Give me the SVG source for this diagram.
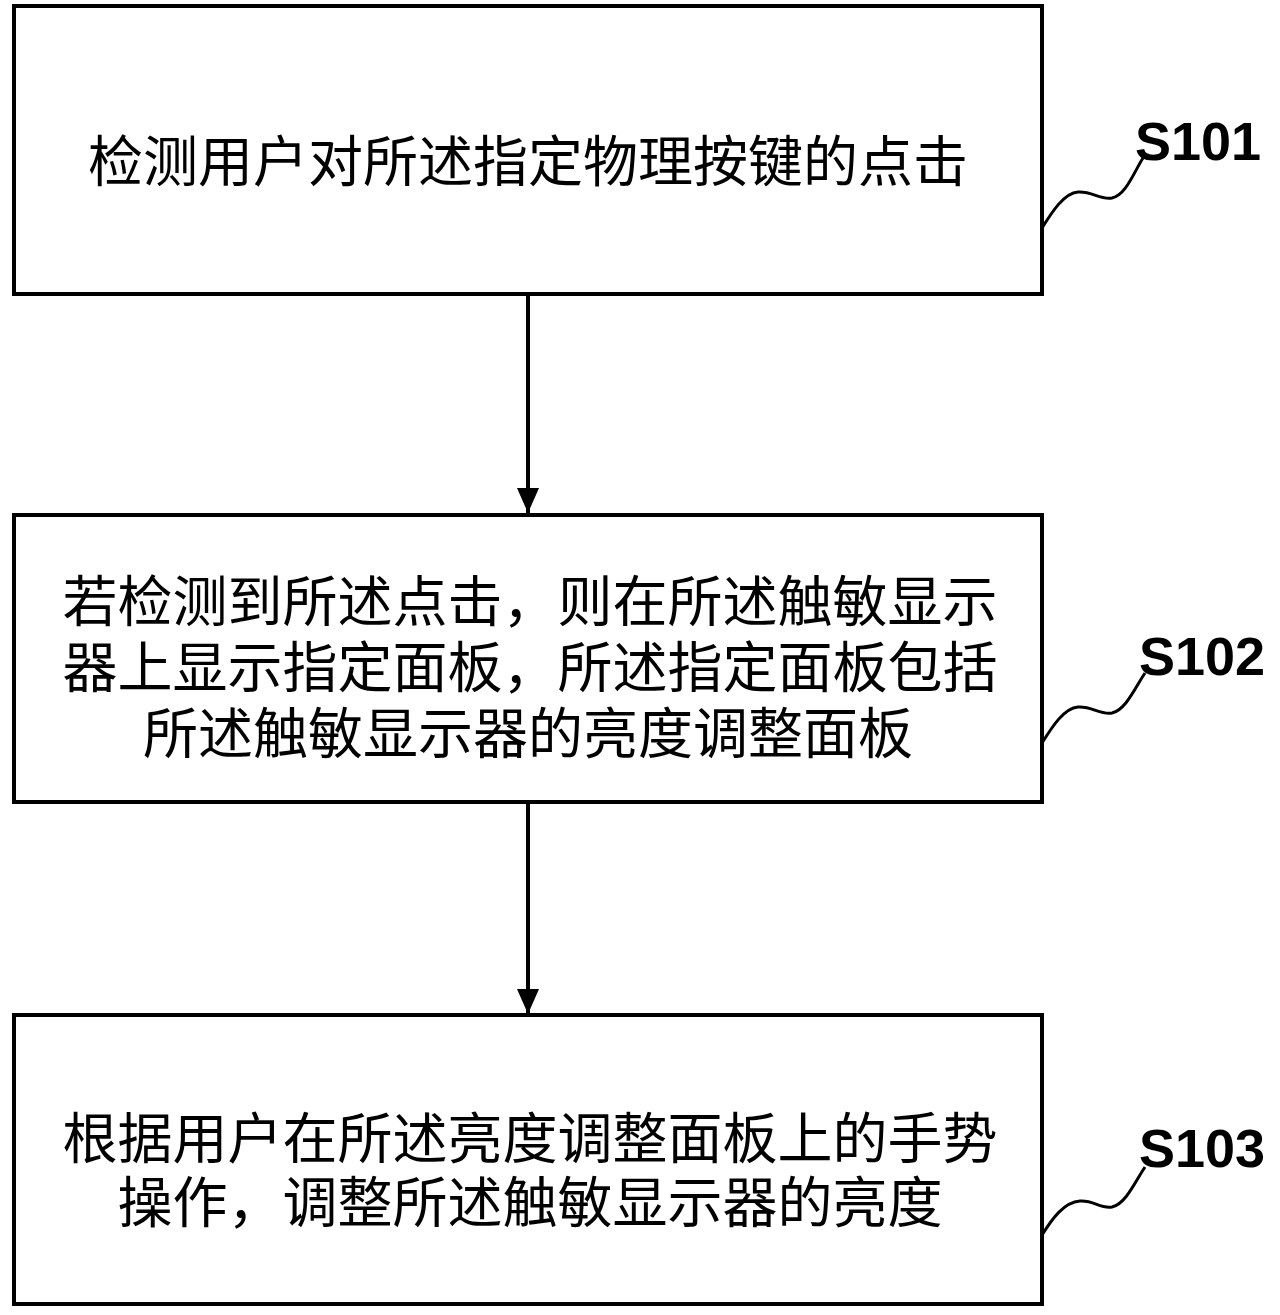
<svg xmlns="http://www.w3.org/2000/svg" width="1280" height="1315" viewBox="0 0 1280 1315">
<style>
.box{fill:#fff;stroke:#000;stroke-width:4}
.t{font-family:"Noto Sans CJK SC","Noto Sans",sans-serif;font-size:55px;fill:#000;text-anchor:middle;dominant-baseline:central}
.lab{font-family:"Liberation Sans",Arial,sans-serif;font-weight:bold;font-size:54px;fill:#000}
.conn{stroke:#000;stroke-width:4;fill:none}
.sq{stroke:#000;stroke-width:3;fill:none}
</style>
<defs>
<marker id="ah" markerWidth="26" markerHeight="22" refX="25" refY="11" orient="auto" markerUnits="userSpaceOnUse">
<path d="M0,0 L25,11 L0,22 Z" fill="#000"/>
</marker>
</defs>
<rect width="1280" height="1315" fill="#fff"/>
<g id="connectors">
<line class="conn" x1="528" y1="296" x2="528" y2="513" marker-end="url(#ah)"/>
<line class="conn" x1="528" y1="804" x2="528" y2="1014" marker-end="url(#ah)"/>
<path class="sq" d="M1042,228 C1052,212 1064,193 1078,192 C1092,191 1100,200 1112,198 C1126,195 1134,172 1143,158"/>
<path class="sq" d="M1042,743 C1052,727 1064,708 1078,707 C1092,706 1100,715 1112,713 C1126,710 1136,686 1145,673"/>
<path class="sq" d="M1042,1235 C1052,1219 1064,1202 1080,1201 C1094,1200 1100,1209 1112,1207 C1126,1204 1136,1180 1145,1167"/>
</g>
<g id="S101">
<rect class="box" x="14" y="6" width="1028" height="288"/>
<text class="t" x="528" y="157">检测用户对所述指定物理按键的点击</text>
<text class="lab" x="1135" y="160">S101</text>
</g>
<g id="S102">
<rect class="box" x="14" y="515" width="1028" height="287"/>
<text class="t" x="530" y="597">若检测到所述点击，则在所述触敏显示</text>
<text class="t" x="530" y="663">器上显示指定面板，所述指定面板包括</text>
<text class="t" x="528" y="729">所述触敏显示器的亮度调整面板</text>
<text class="lab" x="1139" y="675">S102</text>
</g>
<g id="S103">
<rect class="box" x="14" y="1015" width="1028" height="289"/>
<text class="t" x="530" y="1134">根据用户在所述亮度调整面板上的手势</text>
<text class="t" x="530" y="1198">操作，调整所述触敏显示器的亮度</text>
<text class="lab" x="1139" y="1167">S103</text>
</g>
</svg>
